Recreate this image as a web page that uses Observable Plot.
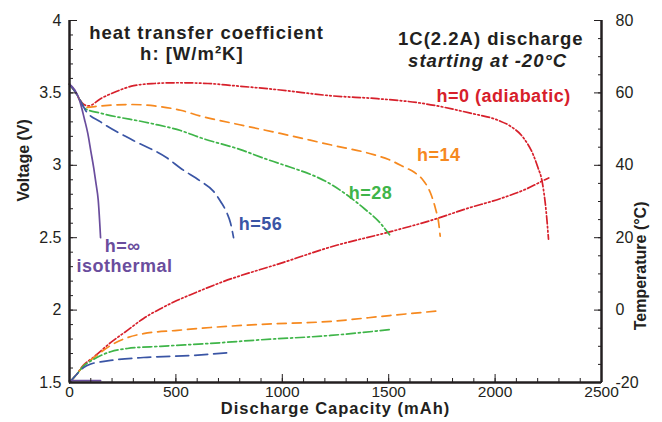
<!DOCTYPE html>
<html>
<head>
<meta charset="utf-8">
<script src="https://cdn.jsdelivr.net/npm/d3@7"></script>
<script src="https://cdn.jsdelivr.net/npm/@observablehq/plot@0.6"></script>
<style>
  html, body { margin: 0; padding: 0; background: #fff; }
  #chart svg { display: block; }
  /* wide-set bold lettering for the notes, curve labels and x title */
  #chart [aria-description="note"] text { letter-spacing: 1px; }
  #chart [aria-description="curve label"] text { letter-spacing: 0.5px; }
  #chart [aria-description="x title"] text { letter-spacing: 1px; }
</style>
</head>
<body>
<div id="chart"></div>
<script>
// Discharge capacity (mAh) vs. voltage (V) and cell temperature (°C)
// for several heat transfer coefficients h.

// h = ∞ (isothermal)
const capIso = [0, 25, 47, 70, 86, 100, 114, 125, 135, 146];
const voltIso = [3.56, 3.52, 3.45, 3.32, 3.22, 3.10, 2.98, 2.87, 2.76, 2.50];
const tcapIso = [0, 146];
const tempIso = [-19.5, -19.5];

// h = 56
const cap56 = [0, 30, 60, 75, 146, 302, 459, 522, 616, 677, 710, 740, 757, 771];
const volt56 = [3.56, 3.50, 3.42, 3.38, 3.30, 3.17, 3.05, 2.98, 2.89, 2.82, 2.75, 2.67, 2.60, 2.50];
const tcap56 = [0, 30, 66, 100, 146, 193, 348, 583, 757];
const temp56 = [-20, -18.0, -15.9, -14.9, -14.3, -13.9, -13.1, -12.5, -11.7];

// h = 28
const cap28 = [0, 30, 60, 75, 146, 381, 522, 616, 800, 930, 991, 1227, 1386, 1461, 1504];
const volt28 = [3.56, 3.50, 3.42, 3.39, 3.36, 3.29, 3.24, 3.19, 3.11, 3.04, 3.01, 2.87, 2.70, 2.60, 2.52];
const tcap28 = [0, 30, 66, 113, 193, 272, 428, 663, 900, 1227, 1504];
const temp28 = [-20, -18.0, -15.5, -13.6, -11.5, -10.6, -10.0, -9.2, -8.2, -7.0, -5.4];

// h = 14
const cap14 = [0, 30, 60, 75, 146, 287, 400, 522, 616, 800, 991, 1231, 1414, 1500, 1570, 1622, 1660, 1696, 1720, 1735, 1742];
const volt14 = [3.56, 3.50, 3.42, 3.40, 3.41, 3.42, 3.41, 3.38, 3.34, 3.28, 3.22, 3.14, 3.08, 3.04, 2.99, 2.95, 2.90, 2.81, 2.70, 2.60, 2.51];
const tcap14 = [0, 30, 66, 113, 193, 272, 348, 507, 663, 883, 1231, 1504, 1739];
const temp14 = [-20, -18.0, -15.4, -13.2, -9.8, -7.6, -6.5, -5.6, -4.8, -4.0, -3.1, -1.5, -0.2];

// h = 0 (adiabatic)
const cap0 = [0, 30, 60, 89, 146, 220, 302, 400, 505, 650, 771, 991, 1231, 1447, 1649, 1884, 2016, 2072, 2133, 2180, 2200, 2222, 2240, 2251];
const volt0 = [3.56, 3.50, 3.43, 3.41, 3.46, 3.51, 3.55, 3.565, 3.57, 3.565, 3.55, 3.52, 3.48, 3.46, 3.43, 3.36, 3.31, 3.27, 3.19, 3.07, 2.99, 2.88, 2.68, 2.49];
const tcap0 = [0, 30, 66, 113, 193, 272, 348, 428, 507, 583, 710, 1006, 1231, 1504, 1711, 1870, 2025, 2152, 2237, 2252];
const temp0 = [-20, -18.0, -15.2, -13.0, -9.0, -5.6, -2.3, 0.4, 2.7, 4.6, 7.6, 13.2, 17.5, 21.6, 25.0, 28.1, 30.8, 33.6, 36.1, 36.5];

// Axis ticks
const voltTicks = [1.5, 2, 2.5, 3, 3.5, 4];
const capTicks = [0, 500, 1000, 1500, 2000, 2500];
const tempTicks = [-20, 0, 20, 40, 60, 80];

// Temperature shares the plot with voltage: -20..80 °C spans 1.5..4 V.
const tempToVolt = t => 1.5 + (t + 20) * 0.025;
const voltToTemp = v => Math.round((v - 1.5) / 0.025 - 20);

const ink = "#231f20";
const series = [
  {cap: cap0, volt: volt0, tcap: tcap0, temp: temp0, color: "#d7202b", dash: "8,2.5,1.6,2.5,1.6,2.5"},
  {cap: cap14, volt: volt14, tcap: tcap14, temp: temp14, color: "#f6891f", dash: "9,6"},
  {cap: cap28, volt: volt28, tcap: tcap28, temp: temp28, color: "#3fb549", dash: "9,3,2,3"},
  {cap: cap56, volt: volt56, tcap: tcap56, temp: temp56, color: "#3a55a5", dash: "13,6"},
  {cap: capIso, volt: voltIso, tcap: tcapIso, temp: tempIso, color: "#6a4d9d", dash: null}
];

const curveMarks = series.flatMap(s => [
  Plot.line(d3.zip(s.cap, s.volt), {
    x: d => d[0], y: d => d[1], stroke: s.color, strokeWidth: 1.7,
    strokeDasharray: s.dash, curve: "monotone-x"
  }),
  Plot.line(d3.zip(s.tcap, s.temp), {
    x: d => d[0], y: d => tempToVolt(d[1]), stroke: s.color, strokeWidth: 1.7,
    strokeDasharray: s.dash, curve: "monotone-x"
  })
]);

const range = (a, b, step) => d3.range(a, b + step / 2, step);
const font = "'Liberation Sans', Arial, Helvetica, sans-serif";
const bold = {fontFamily: font, fontWeight: "bold"};
const note = {fontSize: 18.5, fill: ink, ariaDescription: "note", ...bold};
const curveLabel = {fontSize: 18, ariaDescription: "curve label", ...bold};

const chart = Plot.plot({
  width: 662,
  height: 422,
  marginLeft: 69,
  marginRight: 61,
  marginTop: 20,
  marginBottom: 40,
  style: {fontFamily: font, fontSize: "16px", color: ink, background: "#fff", overflow: "visible"},
  x: {domain: [0, 2500]},
  y: {domain: [1.5, 4]},
  marks: [
    ...curveMarks,

    // Left axis: voltage
    Plot.axisY({anchor: "left", ticks: range(1.5, 4, 0.1), tickSize: -4, tickFormat: () => "", label: null}),
    Plot.axisY({anchor: "left", ticks: voltTicks, tickSize: -8, label: null, tickFormat: () => ""}),
    Plot.axisY({anchor: "left", ticks: voltTicks, tickSize: 0, tickPadding: 8, label: null,
      tickFormat: d => String(d), fontSize: 16}),

    // Right axis: temperature
    Plot.axisY({anchor: "right", ticks: range(-20, 80, 5).map(tempToVolt), tickSize: -4, tickFormat: () => "", label: null}),
    Plot.axisY({anchor: "right", ticks: tempTicks.map(tempToVolt), tickSize: -8, tickFormat: () => "", label: null}),
    Plot.axisY({anchor: "right", ticks: tempTicks.map(tempToVolt), tickSize: 0, tickPadding: 14, label: null,
      tickFormat: voltToTemp, fontSize: 16}),

    // Bottom axis: discharge capacity
    Plot.axisX({anchor: "bottom", ticks: range(0, 2500, 100), tickSize: -4, tickFormat: () => "", label: null}),
    Plot.axisX({anchor: "bottom", ticks: capTicks, tickSize: -8, tickFormat: () => "", label: null}),
    Plot.axisX({anchor: "bottom", ticks: capTicks, tickSize: 0, tickPadding: 3, label: null,
      tickFormat: d => String(d), fontSize: 15.5}),

    Plot.ruleX([0, 2500], {stroke: ink, strokeWidth: 2.5}),
    Plot.ruleY([1.5], {stroke: ink, strokeWidth: 2.5}),

    // Axis titles
    Plot.text(["Voltage (V)"], {frameAnchor: "left", dx: -46, rotate: -90, fontSize: 16, fill: ink, ...bold}),
    Plot.text(["Temperature (°C)"], {frameAnchor: "right", dx: 39, rotate: -90, fontSize: 16, fill: ink, ...bold}),
    Plot.text(["Discharge Capacity (mAh)"], {frameAnchor: "bottom", dy: 31, fontSize: 16.5, fill: ink,
      ariaDescription: "x title", ...bold}),

    // Condition notes
    Plot.text(["heat transfer coefficient"], {x: 644, y: 3.915, ...note}),
    Plot.text(["h: [W/m²K]"], {x: 575, y: 3.765, ...note}),
    Plot.text(["1C(2.2A) discharge"], {x: 1980, y: 3.87, ...note}),
    Plot.text(["starting at -20°C"], {x: 1965, y: 3.72, fontStyle: "italic", ...note}),

    // Curve labels
    Plot.text(["h=0 (adiabatic)"], {x: 2040, y: 3.48, fill: "#d7202b", ...curveLabel}),
    Plot.text(["h=14"], {x: 1735, y: 3.07, fill: "#f6891f", ...curveLabel}),
    Plot.text(["h=28"], {x: 1414, y: 2.81, fill: "#3fb549", ...curveLabel}),
    Plot.text(["h=56"], {x: 898, y: 2.59, fill: "#3a55a5", ...curveLabel}),
    Plot.text(["h=∞"], {x: 250, y: 2.44, fill: "#6a4d9d", ...curveLabel}),
    Plot.text(["isothermal"], {x: 258, y: 2.30, fill: "#6a4d9d", ...curveLabel})
  ]
});

document.getElementById("chart").appendChild(chart);
</script>
</body>
</html>
